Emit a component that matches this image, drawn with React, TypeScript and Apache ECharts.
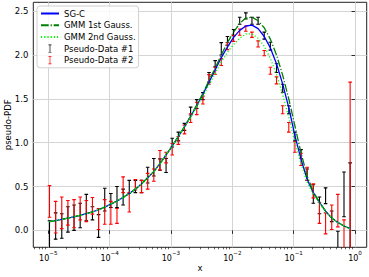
import React, { useEffect, useRef } from 'react';
import * as echarts from 'echarts';

// log10 of the x positions of the pseudo-data bins and curve samples
const logX = [
  -4.98, -4.88, -4.78, -4.68, -4.58, -4.48, -4.38, -4.28, -4.18, -4.08,
  -3.98, -3.88, -3.78, -3.68, -3.58, -3.48, -3.38, -3.28, -3.18, -3.08,
  -2.98, -2.88, -2.78, -2.68, -2.58, -2.48, -2.38, -2.28, -2.18, -2.08,
  -1.98, -1.88, -1.78, -1.68, -1.58, -1.48, -1.38, -1.28, -1.18, -1.08,
  -0.98, -0.88, -0.78, -0.68, -0.58, -0.48, -0.38, -0.28, -0.18, -0.08,
];

const sgc = [
  0.10, 0.11, 0.125, 0.14, 0.155, 0.17, 0.19, 0.21, 0.235, 0.265,
  0.30, 0.335, 0.375, 0.42, 0.47, 0.53, 0.60, 0.67, 0.76, 0.86,
  0.96, 1.07, 1.18, 1.30, 1.42, 1.55, 1.69, 1.83, 1.97, 2.09,
  2.20, 2.28, 2.33, 2.34, 2.30, 2.21, 2.08, 1.90, 1.67, 1.40,
  1.08, 0.81, 0.58, 0.43, 0.32, 0.22, 0.14, 0.09, 0.05, 0.02,
];

const gmm1 = [
  0.10, 0.11, 0.125, 0.14, 0.155, 0.17, 0.19, 0.21, 0.235, 0.265,
  0.30, 0.335, 0.375, 0.42, 0.47, 0.53, 0.60, 0.67, 0.76, 0.86,
  0.96, 1.07, 1.18, 1.30, 1.43, 1.56, 1.71, 1.85, 2.00, 2.14,
  2.26, 2.36, 2.42, 2.43, 2.39, 2.31, 2.18, 2.00, 1.77, 1.50,
  1.19, 0.88, 0.62, 0.44, 0.32, 0.22, 0.14, 0.09, 0.05, 0.02,
];

const gmm2 = [
  0.10, 0.11, 0.125, 0.14, 0.155, 0.17, 0.19, 0.21, 0.235, 0.265,
  0.30, 0.335, 0.375, 0.42, 0.47, 0.53, 0.60, 0.67, 0.76, 0.86,
  0.96, 1.07, 1.18, 1.29, 1.41, 1.53, 1.66, 1.79, 1.92, 2.03,
  2.12, 2.19, 2.24, 2.24, 2.19, 2.10, 1.96, 1.78, 1.55, 1.29,
  1.01, 0.76, 0.55, 0.41, 0.31, 0.21, 0.14, 0.09, 0.05, 0.02,
];

const data1Center = [
  -0.12, 0.05, 0.05, 0.125, 0.145, 0.17, 0.26, 0.195, 0.05, 0.35,
  0.34, 0.38, 0.38, 0.495, 0.50, 0.50, 0.63, 0.72, 0.75, 0.74,
  1.00, 1.07, 1.18, 1.36, 1.44, 1.53, 1.745, 1.90, 2.07, 2.16,
  2.255, 2.39, 2.445, 2.39, 2.39, 2.22, 2.10, 1.85, 1.62, 1.375,
  1.07, 0.87, 0.635, 0.415, 0.285, 0.395, 0.16, -0.15, 0.41, 0.20,
];
const data1Err = [
  0.23, 0.15, 0.14, 0.145, 0.145, 0.14, 0.15, 0.075, 0.13, 0.13,
  0.08, 0.12, 0.09, 0.075, 0.07, 0.07, 0.09, 0.10, 0.065, 0.08,
  0.05, 0.05, 0.04, 0.045, 0.05, 0.04, 0.055, 0.035, 0.07, 0.05,
  0.035, 0.04, 0.035, 0.04, 0.04, 0.04, 0.045, 0.05, 0.045, 0.045,
  0.05, 0.05, 0.065, 0.105, 0.095, 0.09, 0.06, 0.14, 0.255, 0.57,
];

const data2Center = [
  0.33, 0.15, 0.20, 0.20, 0.19, 0.25, 0.22, 0.28, 0.13, 0.21,
  0.20, 0.165, 0.52, 0.32, 0.52, 0.50, 0.56, 0.63, 0.80, 0.83,
  0.925, 1.025, 1.15, 1.28, 1.39, 1.485, 1.72, 1.82, 1.92, 2.10,
  2.19, 2.26, 2.30, 2.23, 2.125, 2.02, 1.82, 1.71, 1.375, 1.175,
  0.95, 0.81, 0.645, 0.45, 0.20, 0.08, 0.15, 0.225, -0.09, 0.70,
];
const data2Err = [
  0.18, 0.18, 0.18, 0.14, 0.16, 0.13, 0.12, 0.095, 0.12, 0.14,
  0.13, 0.085, 0.09, 0.11, 0.06, 0.07, 0.09, 0.07, 0.11, 0.06,
  0.065, 0.045, 0.05, 0.05, 0.07, 0.045, 0.055, 0.04, 0.04, 0.04,
  0.035, 0.035, 0.03, 0.03, 0.035, 0.03, 0.04, 0.04, 0.045, 0.055,
  0.06, 0.07, 0.075, 0.08, 0.12, 0.12, 0.14, 0.185, 0.21, 0.99,
];

const xMajorTicks = [-5, -4, -3, -2, -1, 0];
const yTicks = [0, 0.5, 1.0, 1.5, 2.0, 2.5];
const seriesNames = ['SG-C', 'GMM 1st Gauss.', 'GMM 2nd Gauss.', 'Pseudo-Data #1', 'Pseudo-Data #2'];

const X_MIN = -5.244;
const X_MAX = 0.19;
const Y_MIN = -0.193;
const Y_MAX = 2.6;

const FONT = 'DejaVu Sans';

function minorTicks(): number[] {
  const out: number[] = [];
  for (let d = -6; d <= 0; d++) {
    for (let m = 2; m <= 9; m++) {
      const v = d + Math.log10(m);
      if (v > X_MIN && v < X_MAX) out.push(v);
    }
  }
  return out;
}

function errorBarSeries(name: string, color: string, center: number[], err: number[]) {
  return {
    type: 'custom',
    name,
    clip: true,
    itemStyle: { color },
    encode: { x: 0, y: 1 },
    data: logX.map((x, i) => [x, center[i], err[i]]),
    renderItem: (params: any, api: any) => {
      const x = api.value(0);
      const c = api.value(1);
      const e = api.value(2);
      const top = api.coord([x, c + e]);
      const bot = api.coord([x, c - e]);
      const hw = 1.8;
      const style = { stroke: color, lineWidth: 1.1, fill: null };
      return {
        type: 'group',
        children: [
          { type: 'line', shape: { x1: top[0], y1: top[1], x2: bot[0], y2: bot[1] }, style },
          { type: 'line', shape: { x1: top[0] - hw, y1: top[1], x2: top[0] + hw, y2: top[1] }, style },
          { type: 'line', shape: { x1: bot[0] - hw, y1: bot[1], x2: bot[0] + hw, y2: bot[1] }, style },
        ],
      };
    },
  };
}

function lineSeries(name: string, values: number[], color: string, type: any, width: number) {
  return {
    type: 'line',
    name,
    symbol: 'none',
    showSymbol: false,
    smooth: false,
    clip: true,
    lineStyle: { color, width, type },
    itemStyle: { color },
    data: logX.map((x, i) => [x, values[i]]),
  };
}

const errIcon = 'path://M0,0H3V0.7H1.85V7.3H3V8H0V7.3H1.15V0.7H0Z';
const hiddenSymbol = { opacity: 0, color: 'rgba(0,0,0,0)', borderColor: 'rgba(0,0,0,0)', borderWidth: 0 };

export default function App() {
  const ref = useRef<HTMLDivElement>(null);

  useEffect(() => {
    document.body.style.margin = '0';
    if (!ref.current) return;
    const chart = echarts.init(ref.current, undefined, { renderer: 'svg' });

    const supLabel = (v: number) => {
      const r = Math.round(v);
      const s = r < 0 ? '\u2212' + Math.abs(r) : String(r);
      return `{b|10}{s|${s}}`;
    };

    const option: any = {
      animation: false,
      backgroundColor: '#fff',
      textStyle: { fontFamily: FONT },
      grid: {
        left: 33.3,
        right: 2.3,
        top: 2.3,
        bottom: 29.7,
        containLabel: false,
        outerBoundsMode: 'none',
        show: true,
        borderColor: '#222',
        borderWidth: 1,
        backgroundColor: 'transparent',
      },
      legend: {
        show: true,
        orient: 'vertical',
        left: 37,
        top: 6,
        padding: [2, 3, 2, 3],
        itemWidth: 18,
        itemHeight: 8,
        itemGap: 0.7,
        symbolKeepAspect: true,
        selectedMode: false,
        borderColor: '#d0d0d0',
        borderWidth: 1,
        borderRadius: 3,
        backgroundColor: 'rgba(255,255,255,0.8)',
        textStyle: { fontFamily: FONT, fontSize: 8.5, color: '#000', lineHeight: 11 },
        data: [
          { name: seriesNames[0], itemStyle: hiddenSymbol },
          { name: seriesNames[1], itemStyle: hiddenSymbol },
          { name: seriesNames[2], itemStyle: hiddenSymbol },
          { name: seriesNames[3], icon: errIcon, itemStyle: { color: '#000' } },
          { name: seriesNames[4], icon: errIcon, itemStyle: { color: '#ff0000' } },
        ],
      },
      xAxis: [
        {
          type: 'value',
          min: X_MIN,
          max: X_MAX,
          position: 'bottom',
          name: 'x',
          nameLocation: 'middle',
          nameGap: 16,
          nameMoveOverlap: false,
          nameTextStyle: { fontFamily: FONT, fontSize: 8.5, color: '#000' },
          axisLine: { show: false },
          axisTick: {
            show: true,
            length: 3.5,
            inside: false,
            customValues: xMajorTicks,
            lineStyle: { color: '#000', width: 0.8 },
          },
          axisLabel: {
            show: true,
            margin: 2.7,
            customValues: xMajorTicks,
            formatter: supLabel,
            color: '#000',
            rich: {
              b: { fontFamily: FONT, fontSize: 8, lineHeight: 12, verticalAlign: 'bottom', color: '#000' },
              s: { fontFamily: FONT, fontSize: 5.6, lineHeight: 6, verticalAlign: 'top', color: '#000' },
            },
          },
          splitLine: { show: true, lineStyle: { color: '#d4d4d4', width: 1 } },
        },
        {
          type: 'value',
          min: X_MIN,
          max: X_MAX,
          position: 'bottom',
          axisLine: { show: false },
          axisTick: {
            show: true,
            length: 2,
            customValues: minorTicks(),
            lineStyle: { color: '#000', width: 0.6 },
          },
          axisLabel: { show: false },
          splitLine: { show: false },
        },
      ],
      yAxis: {
        type: 'value',
        min: Y_MIN,
        max: Y_MAX,
        name: 'pseudo-PDF',
        nameLocation: 'middle',
        nameRotate: 90,
        nameGap: 20.5,
        nameMoveOverlap: false,
        nameTextStyle: { fontFamily: FONT, fontSize: 8.5, color: '#000' },
        axisLine: { show: false },
        axisTick: {
          show: true,
          length: 3.5,
          customValues: yTicks,
          lineStyle: { color: '#000', width: 0.8 },
        },
        axisLabel: {
          show: true,
          margin: 5,
          customValues: yTicks,
          formatter: (v: number) => v.toFixed(1),
          fontFamily: FONT,
          fontSize: 8.5,
          color: '#000',
        },
        splitLine: { show: true, lineStyle: { color: '#d4d4d4', width: 1 } },
      },
      series: [
        errorBarSeries(seriesNames[3], '#000000', data1Center, data1Err),
        errorBarSeries(seriesNames[4], '#ff0000', data2Center, data2Err),
        lineSeries(seriesNames[0], sgc, '#0000ff', 'solid', 1.3),
        lineSeries(seriesNames[1], gmm1, '#008000', [7.7, 1.9, 1.2, 1.9], 1.3),
        lineSeries(seriesNames[2], gmm2, '#00ff00', [1.2, 2.0], 1.3),
      ],
    };

    chart.setOption(option);
    return () => chart.dispose();
  }, []);

  return <div ref={ref} style={{ width: 369, height: 277 }} />;
}
